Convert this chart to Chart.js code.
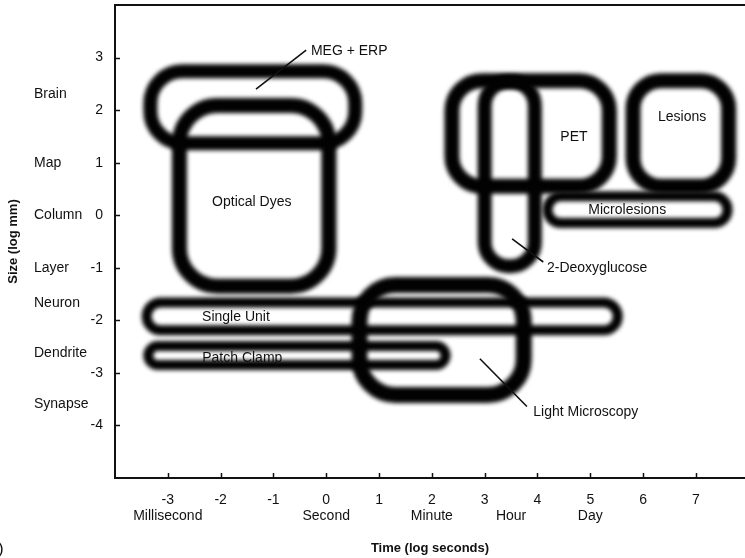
<!DOCTYPE html>
<html>
<head>
<meta charset="utf-8">
<script src="https://cdn.jsdelivr.net/npm/chart.js@4.4.1/dist/chart.umd.min.js"></script>
<style>
html,body{margin:0;padding:0;background:#fff;overflow:hidden}
canvas{display:block}
</style>
</head>
<body>
<canvas id="c" width="745" height="558"></canvas>
<script>
// ---- data (log seconds / log mm) ----
const methods  = ['MEG + ERP','Optical Dyes','PET','Lesions','2-Deoxyglucose','Microlesions','Single Unit','Patch Clamp','Light Microscopy'];
const timeMin  = [-3.33, -2.78, 2.38, 5.81, 3.00, 4.19, -3.40, -3.37, 0.63];
const timeMax  = [ 0.55,  0.05, 5.36, 7.62, 3.95, 7.60,  5.52,  2.26, 3.74];
const sizeMin  = [ 1.37, -1.35, 0.55, 0.55, -0.97, -0.15, -2.19, -2.85, -3.42];
const sizeMax  = [ 2.74,  2.09, 2.56, 2.56,  2.54,  0.36, -1.66, -2.49, -1.33];

const xTickValues = [-3, -2, -1, 0, 1, 2, 3, 4, 5, 6, 7];
const timeUnitNames  = ['Millisecond', 'Second', 'Minute', 'Hour', 'Day'];
const timeUnitValues = [-3, 0, 2, 3.5, 5];
const yTickValues = [-4, -3, -2, -1, 0, 1, 2, 3];
const sizeUnitNames  = ['Brain', 'Map', 'Column', 'Layer', 'Neuron', 'Dendrite', 'Synapse'];
const sizeUnitValues = [2.3, 1, 0, -1, -1.67, -2.63, -3.6];

// ---- styles (kept apart from the data) ----
const shapeStyle = {
  'MEG + ERP':        {radius: 32, width: 14},
  'Optical Dyes':     {radius: 38, width: 15},
  'PET':              {radius: 30, width: 15},
  'Lesions':          {radius: 28, width: 15},
  '2-Deoxyglucose':   {radius: 24, width: 14},
  'Microlesions':     {radius: 99, width: 10},
  'Single Unit':      {radius: 99, width: 10},
  'Patch Clamp':      {radius: 99, width: 10},
  'Light Microscopy': {radius: 36, width: 16}
};
// text annotations (data coordinates)
const insideLabels = [
  {text: 'Optical Dyes', x: -1.41, y: 0.25},
  {text: 'PET',          x: 4.69,  y: 1.49},
  {text: 'Lesions',      x: 6.74,  y: 1.87},
  {text: 'Microlesions', x: 5.70,  y: 0.10},
  {text: 'Single Unit',  x: -1.71, y: -1.93},
  {text: 'Patch Clamp',  x: -1.59, y: -2.71}
];
const leaderLabels = [
  {text: 'MEG + ERP',        from: [-1.33, 2.40], to: [-0.38, 3.14], at: [-0.29, 3.13]},
  {text: '2-Deoxyglucose',   from: [3.52, -0.45], to: [4.11, -0.89], at: [4.18, -1.00]},
  {text: 'Light Microscopy', from: [2.91, -2.73], to: [3.80, -3.64], at: [3.92, -3.74]}
];

const FONT = "'Liberation Sans', Arial, Helvetica, sans-serif";
const INK = '#111';
Chart.defaults.font.family = FONT;
Chart.defaults.color = INK;

function rr(ctx, x, y, w, h, r) {
  r = Math.min(r, w / 2, h / 2);
  ctx.moveTo(x + r, y);
  ctx.arcTo(x + w, y, x + w, y + h, r);
  ctx.arcTo(x + w, y + h, x, y + h, r);
  ctx.arcTo(x, y + h, x, y, r);
  ctx.arcTo(x, y, x + w, y, r);
  ctx.closePath();
}

const blobPlugin = {
  id: 'blobs',
  afterDatasetsDraw(chart) {
    const {ctx, scales: {x, y}} = chart;
    ctx.save();
    ctx.filter = 'blur(2px)';
    ctx.strokeStyle = '#020202';
    methods.forEach((m, i) => {
      const x1 = x.getPixelForValue(timeMin[i]), x2 = x.getPixelForValue(timeMax[i]);
      const y1 = y.getPixelForValue(sizeMax[i]), y2 = y.getPixelForValue(sizeMin[i]);
      const st = shapeStyle[m];
      ctx.lineWidth = st.width;
      ctx.beginPath();
      rr(ctx, x1, y1, x2 - x1, y2 - y1, st.radius);
      ctx.stroke();
    });
    ctx.restore();
  },
  afterDraw(chart) {
    const {ctx, chartArea: ca, scales: {x, y}} = chart;
    ctx.save();
    // top frame line
    ctx.strokeStyle = INK;
    ctx.lineWidth = 2;
    ctx.beginPath();
    ctx.moveTo(ca.left - 1, ca.top);
    ctx.lineTo(ca.right, ca.top);
    ctx.stroke();
    // inward tick marks
    ctx.lineWidth = 1.5;
    ctx.beginPath();
    xTickValues.forEach(v => {
      const px = Math.round(x.getPixelForValue(v)) + 0.5;
      ctx.moveTo(px, ca.bottom);
      ctx.lineTo(px, ca.bottom - 5);
    });
    yTickValues.forEach(v => {
      const py = Math.round(y.getPixelForValue(v)) + 0.5;
      ctx.moveTo(ca.left, py);
      ctx.lineTo(ca.left + 5, py);
    });
    ctx.stroke();
    // size unit names
    ctx.fillStyle = INK;
    ctx.font = '14px ' + FONT;
    ctx.textAlign = 'left';
    ctx.textBaseline = 'middle';
    sizeUnitNames.forEach((n, i) => {
      ctx.fillText(n, 34, y.getPixelForValue(sizeUnitValues[i]));
    });
    // inside labels
    ctx.textAlign = 'center';
    insideLabels.forEach(l => {
      ctx.fillText(l.text, x.getPixelForValue(l.x), y.getPixelForValue(l.y));
    });
    // leader labels
    ctx.lineWidth = 1.6;
    leaderLabels.forEach(l => {
      ctx.beginPath();
      ctx.moveTo(x.getPixelForValue(l.from[0]), y.getPixelForValue(l.from[1]));
      ctx.lineTo(x.getPixelForValue(l.to[0]), y.getPixelForValue(l.to[1]));
      ctx.stroke();
      ctx.textAlign = 'left';
      ctx.fillText(l.text, x.getPixelForValue(l.at[0]), y.getPixelForValue(l.at[1]));
    });
    // cropped panel mark
    ctx.font = '17px ' + FONT;
    ctx.fillText(')', -2, 549);
    ctx.restore();
  }
};

new Chart(document.getElementById('c'), {
  type: 'scatter',
  data: {datasets: []},
  options: {
    responsive: false,
    animation: false,
    devicePixelRatio: 1,
    layout: {padding: {top: 5, left: 0, right: 0, bottom: 0}},
    plugins: {legend: {display: false}, tooltip: {enabled: false}},
    scales: {
      x: {
        type: 'linear', min: -4, max: 7.93,
        afterBuildTicks: s => {
          const vals = xTickValues.concat(timeUnitValues.filter(v => !xTickValues.includes(v))).sort((a, b) => a - b);
          s.ticks = vals.map(v => ({value: v}));
        },
        afterFit: s => { s.height = 80; s.paddingLeft = 0; s.paddingRight = 0; },
        grid: {display: false, drawTicks: false},
        border: {display: true, width: 2, color: INK},
        ticks: {
          autoSkip: false, maxRotation: 0, padding: 14, color: INK,
          font: {size: 14, lineHeight: 1.15},
          callback: v => {
            const num = xTickValues.includes(v) ? String(v) : '';
            const k = timeUnitValues.indexOf(v);
            return k >= 0 ? [num, timeUnitNames[k]] : num;
          }
        },
        title: {display: true, text: 'Time (log seconds)', color: INK,
                font: {size: 13, weight: 'bold'}, padding: {top: 0, bottom: 2}}
      },
      y: {
        type: 'linear', min: -5, max: 4,
        afterBuildTicks: s => { s.ticks = yTickValues.map(v => ({value: v})); },
        afterFit: s => { s.width = 115; s.paddingTop = 0; s.paddingBottom = 0; },
        grid: {display: false, drawTicks: false},
        border: {display: true, width: 2, color: INK},
        ticks: {padding: 12, color: INK, font: {size: 14}, callback: v => String(v)},
        title: {display: true, text: 'Size (log mm)', color: INK,
                font: {size: 13, weight: 'bold'}, padding: {top: 6, bottom: 0}}
      }
    }
  },
  plugins: [blobPlugin]
});
</script>
</body>
</html>
